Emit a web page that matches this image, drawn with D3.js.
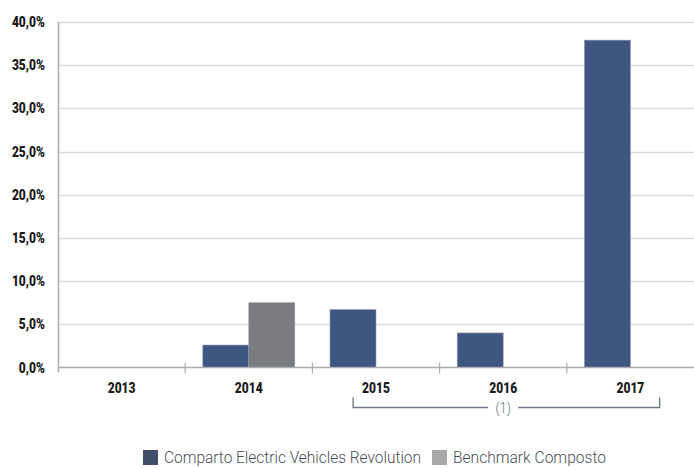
<!DOCTYPE html>
<html><head><meta charset="utf-8">
<script src="https://cdn.jsdelivr.net/npm/d3@7/dist/d3.min.js"></script>
<style>
html,body{margin:0;padding:0;background:#fff;}
svg{display:block;}
</style></head>
<body>
<svg id="chart" width="694" height="468"></svg>
<script>
const years = ["2013","2014","2015","2016","2017"];
const seriesNames = ["Comparto Electric Vehicles Revolution","Benchmark Composto"];
const fondo = [null, 2.6, 6.7, 4.0, 37.9];
const benchmark = [null, 7.5, null, null, null];
const yTicks = [0,5,10,15,20,25,30,35,40];
const noteLabel = "(1)";

const colors = ["#3e5680", "#7a7c80"];
const legendColors = ["#414e68", "#a7a8aa"];

const W = 694, H = 468;
const m = {left:58, right:0, top:22, bottom:100.5};
const svg = d3.select("#chart");
const FONT = "Roboto, 'Noto Sans', sans-serif";

const x0 = d3.scaleBand().domain(years).range([m.left, W - m.right]).padding(0);
const x1 = d3.scaleBand().domain(seriesNames).range([0, x0.bandwidth()]).paddingInner(0).paddingOuter(0.383);
const y = d3.scaleLinear().domain([0,40]).range([H - m.bottom, m.top]);
const fmt = v => d3.format(".1f")(v).replace(".", ",") + "%";

// gridlines
svg.append("g").selectAll("line").data(yTicks.filter(d=>d>0)).join("line")
  .attr("x1", m.left).attr("x2", W - m.right)
  .attr("y1", d=>Math.round(y(d))+0.5).attr("y2", d=>Math.round(y(d))+0.5)
  .attr("stroke", "#dcdcdc").attr("stroke-width", 1.5);

// y labels (condensed via horizontal scale)
svg.append("g").selectAll("g").data(yTicks).join("g")
  .attr("transform", d=>`translate(45,${y(d)+5}) scale(0.86,1)`)
  .append("text")
  .attr("text-anchor","end")
  .attr("font-family", FONT)
  .attr("font-weight","900").attr("font-size", 14).attr("fill","#1a1a1a")
  .text(fmt);

// bars
const rows = years.map((yr,i)=>({year:yr, vals:[fondo[i], benchmark[i]]}));
const g = svg.append("g");
rows.forEach(r=>{
  r.vals.forEach((v,j)=>{
    if (v == null) return;
    g.append("rect")
      .attr("x", x0(r.year) + x1(seriesNames[j]))
      .attr("width", x1.bandwidth())
      .attr("y", y(v))
      .attr("height", y(0) - y(v))
      .attr("fill", colors[j])
      .attr("stroke", j===0 ? "#8a9bb8" : "#9a9ca0").attr("stroke-width", 0.6);
  });
});

// axes lines
svg.append("line").attr("x1", m.left+0.5).attr("x2", m.left+0.5)
  .attr("y1", m.top).attr("y2", y(0)+5).attr("stroke","#a9adb4").attr("stroke-width",1.5);
svg.append("line").attr("x1", m.left).attr("x2", W)
  .attr("y1", y(0)).attr("y2", y(0)).attr("stroke","#a9adb4").attr("stroke-width",1.5);
// category ticks
svg.append("g").selectAll("line").data(years.slice(1)).join("line")
  .attr("x1", d=>x0(d)).attr("x2", d=>x0(d))
  .attr("y1", y(0)-5).attr("y2", y(0)+6)
  .attr("stroke","#a9adb4").attr("stroke-width",1.2);

// year labels
svg.append("g").selectAll("g").data(years).join("g")
  .attr("transform", d=>`translate(${x0(d)+x0.bandwidth()/2},${y(0)+25}) scale(0.86,1)`)
  .append("text")
  .attr("text-anchor","middle")
  .attr("font-family", FONT)
  .attr("font-weight","900").attr("font-size", 14).attr("fill","#1a1a1a")
  .text(d=>d);

// bracket (1) spanning 2015-2017
const bL = x0("2015") + x0.bandwidth()*0.32;
const bR = x0("2017") + x0.bandwidth()*0.73;
const bC = x0("2016") + x0.bandwidth()/2;
const bY = y(0) + 40;
const bStroke = "#6b7689";
svg.append("path")
  .attr("d", `M${bL},${bY-10}V${bY}H${bC-15}M${bC+15},${bY}H${bR}V${bY-10}`)
  .attr("fill","none").attr("stroke",bStroke).attr("stroke-width",1.3);
svg.append("g").attr("transform", `translate(${bC},${bY+5}) scale(0.86,1)`)
  .append("text")
  .attr("text-anchor","middle")
  .attr("font-family", FONT).attr("font-weight", 300)
  .attr("font-size", 15).attr("fill","#6f7378").text(noteLabel);

// legend
const lg = svg.append("g");
const legX = [143, 432];
const legW = [257, 153];
seriesNames.forEach((s,i)=>{
  lg.append("rect").attr("x", legX[i]).attr("y", 450).attr("width", 15).attr("height", 15)
    .attr("fill", legendColors[i]);
  lg.append("text").attr("x", legX[i]+21).attr("y", 463)
    .attr("font-family", FONT).attr("font-weight", 300)
    .attr("font-size", 16.5).attr("fill","#4a4f57")
    .attr("textLength", legW[i]).attr("lengthAdjust","spacingAndGlyphs")
    .text(s);
});
</script>
</body></html>
